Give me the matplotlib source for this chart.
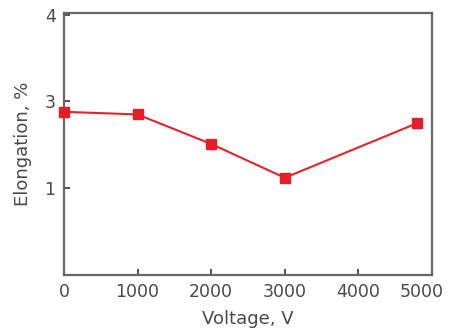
import matplotlib
matplotlib.use("Agg")
import matplotlib.pyplot as plt
from matplotlib.transforms import ScaledTranslation

# Data
voltage = [0, 1000, 2000, 3000, 4800]
elongation = [2.88, 2.85, 2.51, 2.12, 2.75]

x_ticks = [0, 1000, 2000, 3000, 4000, 5000]
x_tick_labels = ["0", "1000", "2000", "3000", "4000", "5000"]
y_ticks = [2, 3, 4]
y_tick_labels = ["1", "3", "4"]

fig = plt.figure(figsize=(4.5, 3.32), dpi=100)
ax = fig.add_axes([0.142, 0.172, 0.818, 0.789])

ax.plot(voltage, elongation, color="#e8222a", linewidth=1.5,
        marker="s", markersize=7.5, markerfacecolor="#e41e26",
        markeredgecolor="#e41e26", clip_on=False, zorder=3)

ax.set_xlim(0, 5000)
ax.set_ylim(1, 4.02)
ax.set_xticks(x_ticks)
ax.set_xticklabels(x_tick_labels)
ax.set_yticks(y_ticks)
ax.set_yticklabels(y_tick_labels)

txt = "#4a4a4a"
for s in ax.spines.values():
    s.set_color("#666666")
    s.set_linewidth(1.6)
ax.tick_params(direction="in", length=4, width=1.2, colors="#333333",
               labelcolor=txt, labelsize=12.5, pad=6)

# last x tick label sits slightly left of its tick in the reference
lbl = ax.get_xticklabels()[-1]
lbl.set_transform(lbl.get_transform() + ScaledTranslation(-10 / 100, 0, fig.dpi_scale_trans))

ax.set_xlabel("Voltage, V", fontsize=13, color=txt, labelpad=6)
ax.set_ylabel("Elongation, %", fontsize=13, color=txt, labelpad=9)

fig.savefig("out.png", dpi=100)
